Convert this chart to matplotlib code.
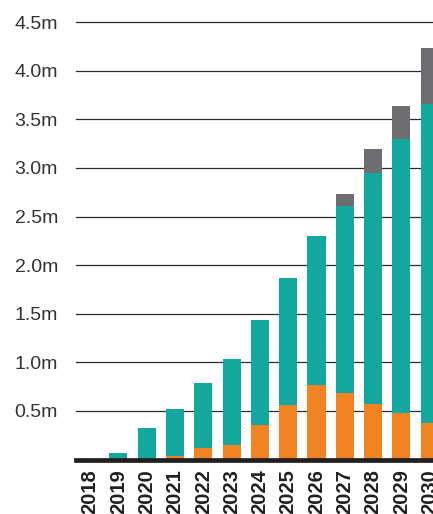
import matplotlib.pyplot as plt
import numpy as np

# Values in millions
years = [2018, 2019, 2020, 2021, 2022, 2023, 2024, 2025, 2026, 2027, 2028, 2029, 2030]
orange_vals = [0.0, 0.0, 0.01, 0.04, 0.12, 0.15, 0.36, 0.56, 0.77, 0.68, 0.57, 0.48, 0.38]
teal_vals = [0.0, 0.07, 0.315, 0.48, 0.67, 0.88, 1.08, 1.31, 1.53, 1.93, 2.38, 2.82, 3.28]
gray_vals = [0.0, 0.0, 0.0, 0.0, 0.0, 0.0, 0.0, 0.0, 0.0, 0.12, 0.24, 0.34, 0.57]
ytick_vals = [0.5, 1.0, 1.5, 2.0, 2.5, 3.0, 3.5, 4.0, 4.5]
ytick_labels = ['0.5m', '1.0m', '1.5m', '2.0m', '2.5m', '3.0m', '3.5m', '4.0m', '4.5m']

plt.rcParams['font.family'] = ['Liberation Sans', 'DejaVu Sans']

fig = plt.figure(figsize=(4.33, 5.14), dpi=100)
ax = fig.add_axes([0.1755, 0.106, 0.8245, 0.851])

x = np.array(years)
orange = np.array(orange_vals)
teal = np.array(teal_vals)
gray = np.array(gray_vals)
width = 0.64

ax.bar(x, orange, width, color='#f28322', zorder=2)
ax.bar(x, teal, width, bottom=orange, color='#12a89d', zorder=2)
ax.bar(x, gray, width, bottom=orange + teal, color='#6d6e71', zorder=2)

# Horizontal gridlines
for v in ytick_vals:
    ax.axhline(v, color='#2b2b2b', lw=0.9, zorder=1, clip_on=False)
# Thick baseline
ax.axhline(0, color='#231f20', lw=3.4, zorder=3, clip_on=False)

ax.set_xlim(2017.5, 2030.12)
ax.set_ylim(0, 4.5)

ax.set_yticks(ytick_vals)
ax.set_yticklabels(ytick_labels, fontsize=14, color='#333333')
ax.tick_params(axis='y', length=0, pad=13)

ax.set_xticks(years)
ax.set_xticklabels([str(y) for y in years], rotation=90, fontsize=14.5,
                   fontweight='bold', color='#231f20', va='top', ha='center')
ax.tick_params(axis='x', length=0, pad=7)

for s in ax.spines.values():
    s.set_visible(False)

plt.savefig('out.png', dpi=100)
plt.close()
